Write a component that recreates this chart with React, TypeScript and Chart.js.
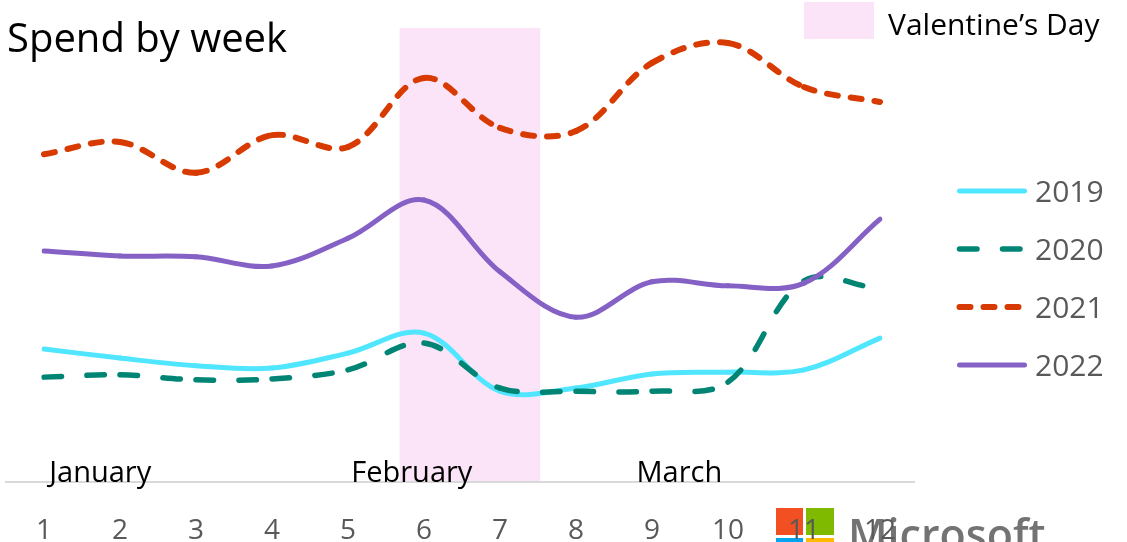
import React, { useEffect, useRef } from "react";
import { Chart, registerables } from "chart.js";

Chart.register(...registerables);

// Week numbers along the x axis
const weeks = ["1", "2", "3", "4", "5", "6", "7", "8", "9", "10", "11", "12"];

// Weekly spend index per year
const spend2019 = [29.3, 27.3, 25.6, 25.1, 28.4, 32.8, 20.0, 20.7, 23.8, 24.2, 24.7, 31.7];
const spend2020 = [23.1, 23.6, 22.5, 22.7, 24.7, 30.6, 20.7, 20.0, 20.0, 22.0, 44.3, 42.5];
const spend2021 = [72.2, 74.9, 68.1, 76.4, 73.8, 89.0, 78.0, 77.3, 92.3, 96.7, 87.0, 83.7];
const spend2022 = [50.9, 49.8, 49.6, 47.6, 53.7, 62.1, 46.3, 36.3, 44.1, 43.2, 43.8, 57.9];

const seriesNames = ["2019", "2020", "2021", "2022"];

// Month captions and the week (fractional) each caption is centred on
const months = ["January", "February", "March"];
const monthCentreWeeks = [1.74, 5.84, 9.36];

// Valentine's Day highlight, as a span of weeks
const valentineWeeks = [5.68, 7.53];

const FONT = '"Open Sans", "Noto Sans", sans-serif';
const PINK = "#FCE4F8";
const COLORS = ["#50E6FF", "#008575", "#D83B01", "#8661C5"];
const WIDTHS = [5, 5.5, 6, 5];
const DASHES: number[][] = [[], [17.5, 25.5], [11, 13], []];

const weekToIndex = (w: number) => w - 1;

const decorations = {
  id: "decorations",
  beforeDraw(chart: any) {
    const { ctx, chartArea, scales } = chart;
    const x = scales.x;
    ctx.save();
    // Microsoft logo in the lower right corner
    ctx.fillStyle = "#F25022";
    ctx.fillRect(776, 508, 27, 27);
    ctx.fillStyle = "#7FBA00";
    ctx.fillRect(806, 508, 28, 27);
    ctx.fillStyle = "#00A4EF";
    ctx.fillRect(776, 538, 27, 27);
    ctx.fillStyle = "#FFB900";
    ctx.fillRect(806, 538, 28, 27);
    ctx.fillStyle = "#737373";
    ctx.font = `600 43px ${FONT}`;
    ctx.textBaseline = "alphabetic";
    ctx.textAlign = "left";
    ctx.fillText("Microsoft", 848, 550);

    // Valentine's Day band
    const x0 = x.getPixelForValue(weekToIndex(valentineWeeks[0]));
    const x1 = x.getPixelForValue(weekToIndex(valentineWeeks[1]));
    ctx.fillStyle = PINK;
    ctx.fillRect(x0, chartArea.top, x1 - x0, chartArea.bottom - chartArea.top - 1);
    ctx.restore();
  },
  beforeDatasetsDraw(chart: any) {
    const { ctx, chartArea, scales } = chart;
    const x = scales.x;
    ctx.save();
    // axis base line
    ctx.strokeStyle = "#D9D9D9";
    ctx.lineWidth = 2;
    ctx.beginPath();
    ctx.moveTo(5, chartArea.bottom);
    ctx.lineTo(915, chartArea.bottom);
    ctx.stroke();

    // month captions
    ctx.fillStyle = "#000";
    ctx.font = `29px ${FONT}`;
    ctx.textAlign = "center";
    ctx.textBaseline = "alphabetic";
    months.forEach((m, i) => {
      ctx.fillText(m, x.getPixelForValue(weekToIndex(monthCentreWeeks[i])), chartArea.bottom);
    });
    ctx.restore();
  },
  afterDraw(chart: any) {
    const { ctx } = chart;
    ctx.save();
    // title
    ctx.fillStyle = "#000";
    ctx.font = `40px ${FONT}`;
    ctx.textAlign = "left";
    ctx.textBaseline = "alphabetic";
    ctx.fillText("Spend by week", 7, 52);

    // Valentine's Day key
    ctx.fillStyle = PINK;
    ctx.fillRect(804, 2, 70, 37);
    ctx.fillStyle = "#000";
    ctx.font = `30px ${FONT}`;
    ctx.fillText("Valentine\u2019s Day", 888, 35);

    // series key
    chart.data.datasets.forEach((ds: any, i: number) => {
      const y = 191 + 58 * i;
      ctx.strokeStyle = ds.borderColor;
      ctx.lineWidth = ds.borderWidth;
      ctx.lineCap = "round";
      ctx.setLineDash(ds.borderDash || []);
      ctx.beginPath();
      ctx.moveTo(959.5, y);
      ctx.lineTo(1024.5, y);
      ctx.stroke();
      ctx.setLineDash([]);
      ctx.fillStyle = "#595959";
      ctx.font = `30px ${FONT}`;
      ctx.fillText(ds.label, 1035, y + 11);
    });
    ctx.restore();
  },
};

export default function App() {
  const canvasRef = useRef<HTMLCanvasElement | null>(null);

  useEffect(() => {
    const canvas = canvasRef.current;
    if (!canvas) return;
    const values = [spend2019, spend2020, spend2021, spend2022];
    const chart = new Chart(canvas, {
      type: "line",
      data: {
        labels: weeks,
        datasets: values.map((v, i) => ({
          label: seriesNames[i],
          data: v,
          borderColor: COLORS[i],
          backgroundColor: COLORS[i],
          borderWidth: WIDTHS[i],
          borderDash: DASHES[i],
          borderCapStyle: "round",
          borderJoinStyle: "round",
          pointRadius: 0,
          tension: 0.35,
          fill: false,
          // later years are painted on top
          order: values.length - i,
          // restart the dash pattern at every week
          segment: {
            borderDashOffset: (c: any) => c.p0DataIndex * 0.0001,
          },
        })),
      },
      options: {
        animation: false,
        responsive: false,
        devicePixelRatio: 1,
        layout: { padding: { left: 44, right: 247, top: 28, bottom: 0 } },
        plugins: {
          legend: { display: false },
          tooltip: { enabled: false },
          title: { display: false },
        },
        scales: {
          x: {
            offset: false,
            grid: { display: false, drawTicks: false },
            border: { display: false },
            ticks: {
              color: "#595959",
              font: { family: FONT, size: 28 },
              padding: 32,
              autoSkip: false,
              maxRotation: 0,
            },
            afterFit: (s: any) => {
              s.height = 60;
            },
          },
          y: { display: false, min: 0, max: 100 },
        },
      },
      plugins: [decorations],
    } as any);
    return () => chart.destroy();
  }, []);

  return (
    <div style={{ position: "absolute", left: 0, top: 0, width: 1127, height: 542, background: "#fff" }}>
      <canvas ref={canvasRef} width={1127} height={542} style={{ display: "block" }} />
    </div>
  );
}
